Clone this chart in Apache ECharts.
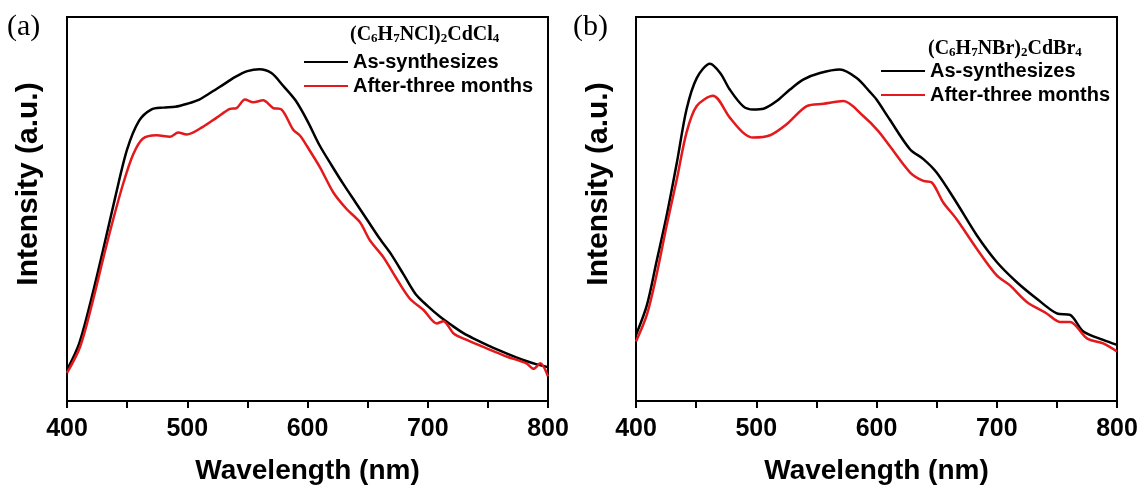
<!DOCTYPE html>
<html>
<head>
<meta charset="utf-8">
<script src="https://cdn.jsdelivr.net/npm/echarts@6/dist/echarts.min.js"></script>
<style>
  html, body { margin: 0; padding: 0; background: #fff; }
  #main { width: 1144px; height: 490px; }
</style>
</head>
<body>
<div id="main"></div>
<script>
// panel (a) (C6H7NCl)2CdCl4
const wlA1 = [400, 410, 420, 430, 440, 450, 460, 470, 480, 490, 500, 510, 520, 530, 540, 550, 560, 570, 580, 590, 600,
  610, 620, 630, 640, 650, 660, 670, 680, 690, 700, 710, 720, 730, 740, 750, 760, 770, 780, 790, 800];
const asSynA = [8.1, 14.9, 26.3, 39.3, 52.9, 65.5, 73.0, 75.9, 76.4, 76.6, 77.4, 78.5, 80.4, 82.4, 84.4, 85.9, 86.4, 85.4, 82.0, 78.3, 72.9,
  66.6, 61.4, 56.4, 51.7, 47.0, 42.3, 38.0, 32.9, 27.8, 24.7, 22.0, 19.7, 17.6, 16.0, 14.5, 13.1, 11.8, 10.6, 9.6, 8.8];
const wlA2 = [400, 411, 422, 430, 438.5, 447, 455, 463, 474.5, 485.5, 492.5, 499.5, 513, 524.5, 535.5, 541, 548, 555, 563, 571.5,
  578.5, 588, 594, 599.5, 610.5, 621.5, 632.5, 643.5, 652, 663, 674, 685, 696.5, 707.5, 713, 721.5, 732.5, 749, 765.5, 782, 788, 793.5, 800];
const afterA = [7.3, 14.2, 26.7, 37.0, 47.4, 56.9, 64.2, 68.3, 69.2, 68.8, 69.9, 69.4, 71.4, 73.8, 76.1, 76.3, 78.5, 77.8, 78.3, 76.3,
  75.9, 70.7, 69.0, 66.4, 60.8, 54.3, 50.0, 46.6, 41.8, 37.5, 31.9, 26.7, 23.7, 20.2, 20.8, 17.6, 15.9, 13.7, 11.6, 9.8, 8.4, 9.8, 6.4];

// panel (b) (C6H7NBr)2CdBr4
const wlB1 = [400, 409, 417, 425.5, 434, 442, 450.5, 461.5, 470, 478, 489, 497.5, 506, 517, 528, 539, 553, 569.5, 583.5, 594.5,
  600, 611, 628, 639, 650, 666.5, 683.5, 700, 716.5, 733, 750, 761, 772, 788.5, 800];
const asSynB = [17.2, 24.9, 36.2, 48.3, 62.1, 75.9, 84.1, 87.8, 85.4, 81.1, 76.8, 75.9, 76.1, 78.1, 81.1, 83.7, 85.4, 86.3, 84.1, 80.5,
  78.5, 73.3, 65.5, 63.0, 59.5, 51.7, 43.1, 36.2, 31.0, 26.7, 22.8, 22.4, 18.1, 15.9, 14.6];
const wlB2 = [400, 409, 417, 425.5, 434, 442, 450.5, 464, 478, 489, 497.5, 511.5, 525, 542, 556, 572.5, 589, 601.5, 611, 628,
  639, 646, 655.5, 666.5, 683.5, 700, 711, 725, 741.5, 752.5, 761, 775, 788.5, 800];
const afterB = [15.5, 22.4, 32.7, 45.7, 57.8, 69.9, 76.8, 79.5, 73.8, 69.9, 68.6, 69.2, 72.0, 76.8, 77.4, 78.1, 74.2, 70.3, 66.4, 59.5,
  57.3, 56.9, 51.7, 47.4, 39.6, 32.7, 30.1, 25.8, 22.8, 20.6, 20.6, 16.3, 15.0, 12.9];

const names = ['As-synthesizes', 'After-three months'];
const colors = ['#000000', '#e4191c'];

const pairs = (xs, ys) => xs.map((x, i) => [x, ys[i]]);

const chart = echarts.init(document.getElementById('main'));

const xAxisBase = (gridIndex) => ({
  type: 'value',
  gridIndex: gridIndex,
  min: 400,
  max: 800,
  interval: 100,
  axisLine: { lineStyle: { color: '#000', width: 2 } },
  axisTick: { length: 7, lineStyle: { color: '#000', width: 2 } },
  minorTick: { show: true, splitNumber: 2, length: 7, lineStyle: { color: '#000', width: 2 } },
  splitLine: { show: false },
  minorSplitLine: { show: false },
  axisLabel: { fontSize: 25, fontWeight: 'bold', fontFamily: 'Liberation Sans', color: '#000', margin: 16 },
  name: 'Wavelength (nm)',
  nameLocation: 'middle',
  nameGap: 56,
  nameTextStyle: { fontSize: 28, fontWeight: 'bold', fontFamily: 'Liberation Sans', color: '#000' }
});

const yAxisBase = (gridIndex) => ({
  type: 'value',
  gridIndex: gridIndex,
  min: 0,
  max: 100,
  axisLine: { show: true, lineStyle: { color: '#000', width: 2 } },
  axisTick: { show: false },
  axisLabel: { show: false },
  splitLine: { show: false }
});

const lineSeries = (name, xs, ys, idx, color) => ({
  name: name,
  type: 'line',
  xAxisIndex: idx,
  yAxisIndex: idx,
  data: pairs(xs, ys),
  symbol: 'none',
  smooth: 0.3,
  lineStyle: { color: color, width: 2.5 },
  itemStyle: { color: color }
});

// legend: plain line icons, no marker
const legendBase = (left, top) => ({
  left: left,
  top: top,
  orient: 'vertical',
  itemWidth: 44,
  itemHeight: 20,
  itemGap: 4,
  padding: 0,
  data: names,
  selectedMode: false,
  itemStyle: { opacity: 0 },
  textStyle: { fontSize: 20, fontWeight: 'bold', fontFamily: 'Liberation Sans', color: '#000' }
});

const formulaRich = {
  n: { fontSize: 20, fontWeight: 'bold', fontFamily: 'Liberation Serif', color: '#000', lineHeight: 21 },
  s: { fontSize: 13, fontWeight: 'bold', fontFamily: 'Liberation Serif', color: '#000', lineHeight: 13, verticalAlign: 'bottom' }
};

chart.setOption({
  animation: false,
  backgroundColor: '#fff',
  title: [
    {
      text: '{n|(C}{s|6}{n|H}{s|7}{n|NCl)}{s|2}{n|CdCl}{s|4}',
      left: 350, top: 24, padding: 0,
      textStyle: { rich: formulaRich }
    },
    {
      text: '{n|(C}{s|6}{n|H}{s|7}{n|NBr)}{s|2}{n|CdBr}{s|4}',
      left: 928, top: 38, padding: 0,
      textStyle: { rich: formulaRich }
    }
  ],
  legend: [legendBase(303, 52), legendBase(880, 61)],
  grid: [
    { left: 67, top: 17, width: 481, height: 386, show: true, borderColor: '#000', borderWidth: 2 },
    { left: 636, top: 17, width: 481, height: 386, show: true, borderColor: '#000', borderWidth: 2 }
  ],
  xAxis: [xAxisBase(0), xAxisBase(1)],
  yAxis: [yAxisBase(0), yAxisBase(1)],
  graphic: [
    { type: 'text', left: 7, top: 12, style: { text: '(a)', font: '30px "Liberation Serif"', fill: '#000' } },
    { type: 'text', left: 573, top: 12, style: { text: '(b)', font: '30px "Liberation Serif"', fill: '#000' } },
    { type: 'text', x: 29, y: 184, rotation: Math.PI / 2,
      style: { text: 'Intensity (a.u.)', font: 'bold 30px "Liberation Sans"', align: 'center', verticalAlign: 'middle', fill: '#000' } },
    { type: 'text', x: 599, y: 184, rotation: Math.PI / 2,
      style: { text: 'Intensity (a.u.)', font: 'bold 30px "Liberation Sans"', align: 'center', verticalAlign: 'middle', fill: '#000' } }
  ],
  series: [
    lineSeries(names[0], wlA1, asSynA, 0, colors[0]),
    lineSeries(names[1], wlA2, afterA, 0, colors[1]),
    lineSeries(names[0], wlB1, asSynB, 1, colors[0]),
    lineSeries(names[1], wlB2, afterB, 1, colors[1])
  ]
});
</script>
</body>
</html>
